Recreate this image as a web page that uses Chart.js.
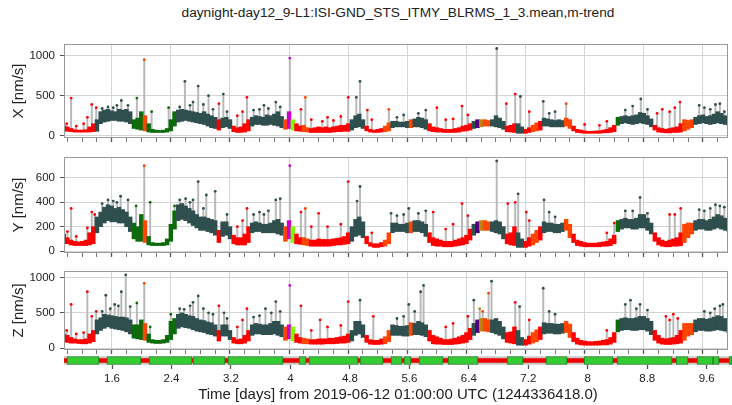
<!DOCTYPE html>
<html>
<head>
<meta charset="utf-8">
<script src="https://cdn.jsdelivr.net/npm/chart.js@4.4.0/dist/chart.umd.min.js"></script>
<style>
  body { margin: 0; background: #fff; width: 732px; height: 405px; overflow: hidden; position: relative; font-family: "Liberation Sans", Arial, sans-serif; }
  .p { position: absolute; left: 0; width: 732px; }
  #title { position: absolute; top: 5px; left: 64px; width: 668px; text-align: center; font-size: 13.7px; color: #222; white-space: nowrap; }
</style>
</head>
<body>
<div id="title">daynight-day12_9-L1:ISI-GND_STS_ITMY_BLRMS_1_3.mean,m-trend</div>
<div class="p" style="top:0;height:145px"><canvas id="cx"></canvas></div>
<div class="p" style="top:145px;height:115px"><canvas id="cy"></canvas></div>
<div class="p" style="top:260px;height:97px"><canvas id="cz"></canvas></div>
<div class="p" style="top:353px;height:52px"><canvas id="cs"></canvas></div>
<script>
// time grid of the band (days), one bin every 0.05 day starting at 0.95
const t0 = 0.95, dt = 0.05;

// colour segments (start time, state)
const segStart = [0.95, 1.398, 1.882, 2.003, 2.084, 2.474, 3.026, 3.080, 3.228, 3.456, 3.927, 3.954, 3.994, 4.035, 4.075, 4.196, 4.263, 4.802, 5.017, 5.259, 5.380, 5.622, 5.690, 5.892, 6.457, 6.524, 6.551, 6.578, 6.605, 6.739, 6.901, 7.076, 7.156, 7.277, 7.372, 7.439, 7.708, 7.815, 8.421, 8.488, 8.919, 9.309, 9.349, 9.484];
const segState = ['red','grey','green','orange','green','grey','red','grey','red','grey','orange','lime','magenta','lime','red','orange','red','grey','red','orange','grey','orange','grey','red','grey','indigo','cyan','gold','orange','grey','red','grey','red','orange','red','grey','orange','red','green','grey','red','green','orange','grey'];

// X channel band (low / high edge of the point cloud), nm/s
const xLo = [
  60,55,50,45,45,45,45,45,50,55,
  150,170,180,190,190,180,180,170,150,90,
  80,70,60,45,40,40,40,40,45,60,
  120,170,180,190,180,170,160,150,140,120,
  100,90,70,100,110,90,50,40,40,45,
  60,120,140,140,130,130,140,130,120,100,
  80,90,70,60,55,50,45,40,40,40,
  40,40,40,45,50,50,55,55,70,100,
  110,90,60,45,40,40,45,50,60,100,
  110,110,110,100,100,110,110,100,80,60,
  50,45,45,40,40,40,40,45,55,60,
  70,90,100,110,120,120,120,110,100,80,
  50,45,40,30,30,30,40,50,60,70,
  120,120,110,110,110,110,120,90,60,40,
  35,30,30,30,30,30,35,35,40,50,
  130,150,160,150,140,150,160,150,140,110,
  70,45,40,35,35,40,40,45,60,80,
  100,140,150,160,150,140,150,160,150,140,130];
const xHi = [
  120,110,90,75,70,70,75,110,150,200,
  300,320,330,310,300,330,320,330,300,200,
  220,300,250,150,80,70,65,70,90,200,
  300,320,330,320,310,300,290,280,300,270,
  250,230,200,220,230,200,120,100,110,150,
  200,230,250,240,230,260,250,270,300,240,
  200,300,200,150,120,130,100,90,100,110,
  100,110,100,110,120,130,130,150,200,250,
  270,200,120,80,70,80,90,120,160,180,
  180,170,170,180,200,210,230,220,200,150,
  110,100,90,80,80,80,90,100,120,130,
  150,180,200,200,200,190,200,250,220,180,
  120,130,150,150,110,80,100,130,160,180,
  220,210,200,190,200,190,220,200,120,80,
  70,60,55,55,60,60,70,80,100,130,
  230,240,250,240,250,260,290,280,250,210,
  130,100,90,80,90,100,110,150,200,190,
  200,230,250,260,240,250,270,300,280,250,230];
const xSpikeT   = [1.05,1.27,1.33,1.39,1.73,1.82,1.94,2.04,2.14,2.37,2.59,2.77,2.91,3.05,3.11,3.43,3.82,4.01,4.16,4.22,4.80,4.91,4.96,5.06,5.35,5.85,6.00,6.34,6.81,6.94,7.06,7.13,7.44,7.75,8.76,9.05,9.29,9.55,9.77,9.89,
  0.99,1.12,1.22,1.47,1.55,1.62,1.67,2.52,2.66,2.70,2.84,2.97,3.16,3.30,3.37,3.52,3.60,3.66,3.72,3.88,4.30,4.45,4.52,4.60,4.70,5.12,5.46,5.55,5.75,6.12,6.22,6.42,7.25,7.52,7.60,8.00,8.20,8.30,8.55,8.65,8.85,8.98,9.15,9.22,9.62,9.70,9.83];
const xSpikeTop = [470,230,390,350,440,380,470,950,300,350,680,620,500,400,520,480,420,970,330,480,480,480,680,320,330,320,350,370,1090,400,520,490,430,400,460,330,420,380,390,300,
  150,120,150,340,360,350,380,360,380,420,390,330,300,250,300,320,330,380,340,360,200,180,230,190,240,200,230,260,280,200,210,260,300,280,300,140,130,180,320,370,330,280,300,350,350,330,400];

// Y channel band
const yLo = [
  60,60,50,45,45,45,45,50,60,150,
  200,230,250,240,240,230,230,200,160,100,
  80,80,70,50,45,45,45,45,50,80,
  180,250,260,250,230,210,190,170,170,160,
  150,130,70,120,130,100,60,50,50,50,
  70,150,160,160,150,150,150,150,140,130,
  80,100,70,60,55,50,45,40,40,40,
  40,40,40,45,50,50,55,60,80,120,
  130,110,60,40,30,30,35,40,60,150,
  160,160,160,150,150,160,160,150,120,70,
  45,40,40,35,35,35,40,45,50,60,
  90,130,150,170,170,170,160,150,140,100,
  60,50,45,30,30,30,40,50,70,90,
  150,160,160,150,150,160,170,110,70,45,
  40,35,35,35,35,35,40,40,45,60,
  160,180,190,190,180,180,190,190,170,140,
  80,50,40,35,35,40,40,45,70,110,
  140,170,180,180,170,170,180,190,180,170,160];
const yHi = [
  140,110,90,80,75,80,90,150,200,280,
  320,360,380,370,350,360,340,320,280,230,
  200,300,250,120,70,65,65,70,100,220,
  330,380,390,370,350,330,300,280,280,270,
  260,250,170,240,240,200,130,110,110,140,
  200,230,240,230,220,220,230,250,260,230,
  200,250,200,140,110,110,100,90,90,100,
  95,95,95,100,105,110,120,150,200,260,
  280,240,120,70,60,60,70,90,150,230,
  230,220,220,230,240,250,250,240,220,150,
  110,100,90,80,80,80,90,100,110,130,
  180,220,240,250,250,240,240,250,240,200,
  140,150,200,150,100,80,110,140,170,200,
  240,230,230,220,220,230,260,220,140,90,
  80,70,65,65,65,70,75,80,100,130,
  250,260,270,260,260,270,300,300,270,230,
  150,110,90,80,90,100,110,150,220,230,
  230,250,260,260,250,260,280,300,290,270,250];
const ySpikeT   = [1.00,1.05,1.27,1.33,1.37,1.72,1.82,1.93,2.04,2.12,2.45,2.77,2.88,3.00,3.43,3.82,4.01,4.16,4.22,4.40,4.80,4.92,4.96,5.38,5.62,5.85,5.95,6.34,6.81,6.96,7.06,7.10,7.21,7.45,8.40,8.75,9.30,9.55,9.77,9.89,
  1.12,1.47,1.55,1.62,1.67,2.52,2.60,2.66,2.70,2.84,3.16,3.30,3.37,3.52,3.60,3.66,3.72,3.88,4.30,4.52,4.70,5.12,5.46,5.55,5.75,6.12,6.22,6.42,7.25,7.52,7.60,8.30,8.55,8.65,8.85,9.15,9.22,9.62,9.70,9.83];
const ySpikeTop = [160,350,190,320,300,450,420,370,700,400,370,570,460,490,350,420,700,320,350,310,570,410,530,310,350,330,320,390,740,390,400,470,320,420,230,440,350,340,380,360,
  120,390,420,410,400,420,430,400,420,350,300,200,250,300,320,300,330,430,200,200,220,150,290,300,310,180,220,290,250,320,280,150,330,330,310,300,300,330,350,370];

// Z channel band
const zLo = [
  90,80,70,70,65,60,60,70,90,200,
  250,280,300,280,270,260,250,230,200,140,
  130,120,110,80,70,65,65,70,80,120,
  200,280,300,290,280,260,240,230,220,200,
  190,170,100,170,170,120,70,60,60,70,
  100,180,200,200,190,190,190,200,180,160,
  110,130,100,80,70,60,60,55,55,55,
  55,60,60,60,65,70,70,80,100,180,
  200,150,80,55,50,50,55,60,90,180,
  180,180,170,170,180,190,190,180,160,100,
  60,55,55,50,50,50,55,60,70,80,
  120,180,220,240,240,230,220,200,180,130,
  80,70,60,40,40,40,55,70,90,120,
  200,210,210,200,200,210,220,150,90,55,
  45,40,40,40,40,40,45,45,55,80,
  230,250,260,260,250,250,260,260,240,190,
  110,70,55,50,50,55,60,70,110,170,
  190,230,250,250,240,240,250,260,250,240,220];
const zHi = [
  200,180,150,130,120,120,130,200,250,400,
  430,480,470,460,450,440,440,430,400,330,
  330,400,350,200,120,110,110,120,180,380,
  420,480,500,480,460,450,420,400,390,370,
  360,330,250,330,330,250,150,120,130,180,
  250,330,350,340,330,330,350,380,380,330,
  300,330,300,200,150,140,130,120,120,130,
  130,130,140,140,150,160,170,200,250,380,
  380,330,180,120,110,110,130,160,250,330,
  320,310,310,320,360,350,380,360,330,250,
  180,160,140,120,120,130,140,160,180,220,
  280,350,400,420,420,400,400,420,380,300,
  220,230,300,250,150,120,170,220,260,300,
  360,350,350,340,340,350,380,340,220,140,
  110,100,90,90,95,100,110,120,150,220,
  400,420,430,420,420,430,450,450,420,380,
  250,180,140,130,140,150,180,250,350,350,
  350,400,420,420,410,420,440,460,450,420,400];
const zSpikeT   = [1.05,1.27,1.33,1.39,1.52,1.64,1.73,1.79,1.85,1.94,2.04,2.12,2.40,2.58,2.77,2.91,3.05,3.12,3.43,3.68,3.82,4.01,4.16,4.42,4.80,4.96,5.14,5.62,5.78,5.82,6.50,6.58,6.70,6.74,7.06,7.12,7.44,8.55,8.62,8.75,9.10,9.20,9.70,9.87,
  0.99,1.12,1.22,1.47,1.58,1.69,2.52,2.66,2.70,2.84,2.97,3.16,3.30,3.37,3.52,3.60,3.76,3.88,4.30,4.52,4.70,5.46,5.55,5.70,6.12,6.22,6.42,6.62,7.25,7.52,7.60,8.30,8.70,8.85,9.15,9.26,9.62,9.76,9.83];
const zSpikeTop = [620,800,450,520,750,620,800,1040,590,640,920,300,480,550,740,500,600,500,560,560,660,890,600,400,660,680,450,620,800,890,680,560,780,950,650,590,850,620,680,620,450,480,500,620,
  250,200,220,520,560,600,560,600,650,560,480,420,300,400,440,460,500,520,250,300,320,420,450,520,300,350,450,520,400,520,480,250,560,540,400,420,520,560,600];

// state bar: active (good) segments, days
const activeStart = [0.994,1.533,2.098,2.690,3.160,4.116,4.250,4.936,5.353,5.528,5.730,6.120,6.914,7.438,7.950,8.394,9.188,9.470,9.685,9.900];
const activeEnd   = [1.425,1.990,2.676,3.120,3.900,4.210,4.909,5.246,5.501,5.622,6.053,6.524,7.129,7.721,8.340,9.134,9.349,9.685,9.766,9.940];

const xMin = 0.954, xMax = 9.94;
const majorTicks = [1.6, 2.4, 3.2, 4, 4.8, 5.6, 6.4, 7.2, 8, 8.8, 9.6];
const xTickValues = [];
for (let k = 5; k <= 49; k++) xTickValues.push(k / 5);

const stateColors = {
  red: '#ff0000', grey: '#2f4f4f', green: '#0b6b0b', orange: '#ff4500',
  lime: '#7cfc00', magenta: '#cc00cc', indigo: '#4b0082', cyan: '#00ced1', gold: '#b8860b'
};
const FONT = '"Liberation Sans", Arial, sans-serif';
const gridColor = '#d4d4d4';

function colorAt(t) {
  let s = 0;
  for (let i = 0; i < segStart.length; i++) if (t >= segStart[i]) s = i;
  return stateColors[segState[s]];
}
function isMajor(v) {
  return majorTicks.some(m => Math.abs(m - v) < 1e-6);
}
const times = xLo.map((_, i) => Math.round((t0 + i * dt) * 100) / 100);

const frame = {
  id: 'frame',
  afterDatasetsDraw(chart) {
    const { ctx, chartArea: a } = chart;
    ctx.save();
    ctx.strokeStyle = '#9a9a9a';
    ctx.lineWidth = 1;
    ctx.strokeRect(a.left + 0.5, a.top + 0.5, a.width - 1, a.height - 1);
    ctx.restore();
  }
};

function noPad(s) { s.paddingLeft = 0; s.paddingRight = 0; s.paddingTop = 0; s.paddingBottom = 0; }

function panel(id, lo, hi, spT, spTop, yMin, yMax, yTicks, yLabel, padTop) {
  const band = times.map((t, i) => ({ x: t, y: [lo[i], hi[i]] }));
  const spikes = spT.map((t, k) => ({ x: t, y: [hi[Math.round((t - t0) / dt)], spTop[k]] }));
  const tops = spT.map((t, k) => ({ x: t, y: spTop[k] }));
  return new Chart(document.getElementById(id), {
    type: 'bar',
    data: {
      datasets: [
        { data: spikes, backgroundColor: '#b8b8b8', barThickness: 1.3, grouped: false, order: 3 },
        { data: band, backgroundColor: times.map(colorAt), barThickness: 3.8, grouped: false, order: 2 },
        { type: 'line', data: tops, showLine: false, pointRadius: 1.4, pointBorderWidth: 0,
          pointBackgroundColor: spT.map(colorAt), order: 1 }
      ]
    },
    options: {
      responsive: true, maintainAspectRatio: false, animation: false,
      layout: { padding: { top: padTop, right: 0, bottom: 0, left: 0 } },
      plugins: { legend: { display: false }, tooltip: { enabled: false } },
      scales: {
        x: {
          type: 'linear', min: xMin, max: xMax, offset: false,
          afterBuildTicks: s => { s.ticks = xTickValues.map(v => ({ value: v })); },
          afterFit: s => { s.height = 7; noPad(s); },
          ticks: { display: false, autoSkip: false },
          grid: {
            offset: false, tickLength: 4, tickColor: '#555',
            tickWidth: c => (c.tick && isMajor(c.tick.value)) ? 1.3 : 0.8,
            color: c => (c.tick && isMajor(c.tick.value)) ? gridColor : 'rgba(0,0,0,0)'
          },
          border: { display: false }
        },
        y: {
          min: yMin, max: yMax,
          afterBuildTicks: s => { s.ticks = yTicks.map(v => ({ value: v })); },
          afterFit: s => { s.width = 64; noPad(s); },
          ticks: { font: { size: 11.5, family: FONT }, color: '#222', padding: 5, callback: v => String(v) },
          grid: { color: gridColor, tickColor: '#555', tickLength: 4 },
          border: { display: false },
          title: { display: true, text: yLabel, color: '#222', font: { size: 15, family: FONT }, padding: { top: 10, bottom: 0 } }
        }
      }
    },
    plugins: [frame]
  });
}

panel('cx', xLo, xHi, xSpikeT, xSpikeTop, -29, 1146, [0, 500, 1000], 'X [nm/s]', 44);
panel('cy', yLo, yHi, ySpikeT, ySpikeTop, -16, 772, [0, 200, 400, 600], 'Y [nm/s]', 12);
panel('cz', zLo, zHi, zSpikeT, zSpikeTop, -28, 1095, [0, 500, 1000], 'Z [nm/s]', 11);

// state segment bar with the shared time axis
const active = activeStart.map((s, i) => ({ x: [s, activeEnd[i]], y: 's' }));
new Chart(document.getElementById('cs'), {
  type: 'bar',
  data: {
    labels: ['s'],
    datasets: [
      { data: [{ x: [xMin, xMax], y: 's' }], backgroundColor: '#c8c8c8', barThickness: 8, grouped: false, order: 3 },
      { data: [{ x: [xMin, xMax], y: 's' }], backgroundColor: '#ee0000', barThickness: 4, grouped: false, order: 2 },
      { data: active, backgroundColor: '#33cc33', borderColor: '#1f7f1f', borderWidth: 1, borderSkipped: false,
        barThickness: 8, grouped: false, order: 1 }
    ]
  },
  options: {
    indexAxis: 'y',
    responsive: true, maintainAspectRatio: false, animation: false,
    layout: { padding: { top: 3, right: 0, bottom: 0, left: 0 } },
    plugins: { legend: { display: false }, tooltip: { enabled: false } },
    scales: {
      x: {
        type: 'linear', min: xMin, max: xMax, offset: false,
        afterBuildTicks: s => { s.ticks = xTickValues.map(v => ({ value: v })); },
        afterFit: s => { s.height = 40; noPad(s); },
        ticks: {
          autoSkip: false, maxRotation: 0, padding: 3, color: '#222', font: { size: 11.5, family: FONT },
          callback: v => isMajor(v) ? String(Math.round(v * 10) / 10) : ''
        },
        grid: {
          drawOnChartArea: false, tickLength: 4, tickWidth: 1.3, offset: false,
          tickColor: c => (c.tick && isMajor(c.tick.value)) ? '#555' : 'rgba(0,0,0,0)'
        },
        border: { display: false },
        title: {
          display: true, text: 'Time [days] from 2019-06-12 01:00:00 UTC (1244336418.0)',
          color: '#222', font: { size: 15, family: FONT }, padding: { top: 2, bottom: 1 }
        }
      },
      y: {
        afterFit: s => { s.width = 64; noPad(s); },
        ticks: { display: false },
        grid: { display: false },
        border: { display: false }
      }
    }
  }
});
</script>
</body>
</html>
